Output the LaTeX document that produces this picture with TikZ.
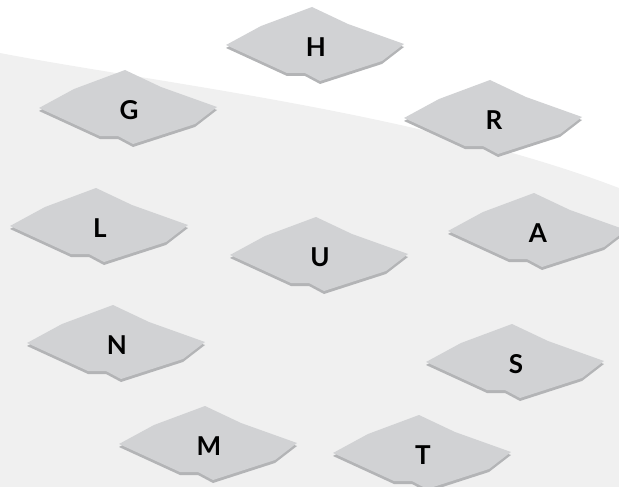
\documentclass[tikz,border=0pt]{standalone}
\usepackage{fontspec}
\setmainfont{Lato}
\usepackage{tikz}
\usetikzlibrary{positioning}
\usepackage{xcolor}

\definecolor{tiletopc}{HTML}{D1D2D4}
\definecolor{tileshadec}{HTML}{B3B4B6}
\definecolor{groundc}{HTML}{F0F0F0}

\begin{document}
\begin{tikzpicture}[
  x=1pt, y=-1pt,
  letter/.style={inner sep=0pt, font=\fontsize{26}{26}\selectfont\bfseries},
  tile/.pic={
    \fill[tileshadec] (-4,-37) -- (32,-20) -- (88,0) -- (66,17) -- (4,37)
      -- (-11,29) -- (-29,29) -- (-90,1) -- (-55,-18) -- cycle;
    \fill[tiletopc] (-4,-40) -- (32,-23) -- (88,-3) -- (66,14) -- (4,34)
      -- (-11,26) -- (-29,26) -- (-90,-2) -- (-55,-21) -- cycle;
  },
]
  \useasboundingbox (0,0) rectangle (619,487);
  \clip (0,0) rectangle (619,487);
  % ── Ground area below the curve ──
  \fill[groundc] (0,53) .. controls (150,82) and (420,112) .. (619,188)
    -- (619,487) -- (0,487) -- cycle;
  % ── Tiles ──
  \pic at (316,47)  {tile};
  \pic at (129,110) {tile};
  \pic at (494,120) {tile};
  \pic at (100,228) {tile};
  \pic at (320,257) {tile};
  \pic at (538,233) {tile};
  \pic at (117,345) {tile};
  \pic at (516,364) {tile};
  \pic at (209,446) {tile};
  \pic at (423,455) {tile};
  % ── Letters ──
  \node[letter] (h) at (316,47)  {H};
  \node[letter] (g) at (129,110) {G};
  \node[letter] (r) at (494,120) {R};
  \node[letter] (l) at (100,228) {L};
  \node[letter] (u) at (320,257) {U};
  \node[letter] (a) at (538,233) {A};
  \node[letter] (n) at (117,345) {N};
  \node[letter] (s) at (516,364) {S};
  \node[letter] (m) at (209,446) {M};
  \node[letter] (t) at (423,455) {T};
\end{tikzpicture}
\end{document}
